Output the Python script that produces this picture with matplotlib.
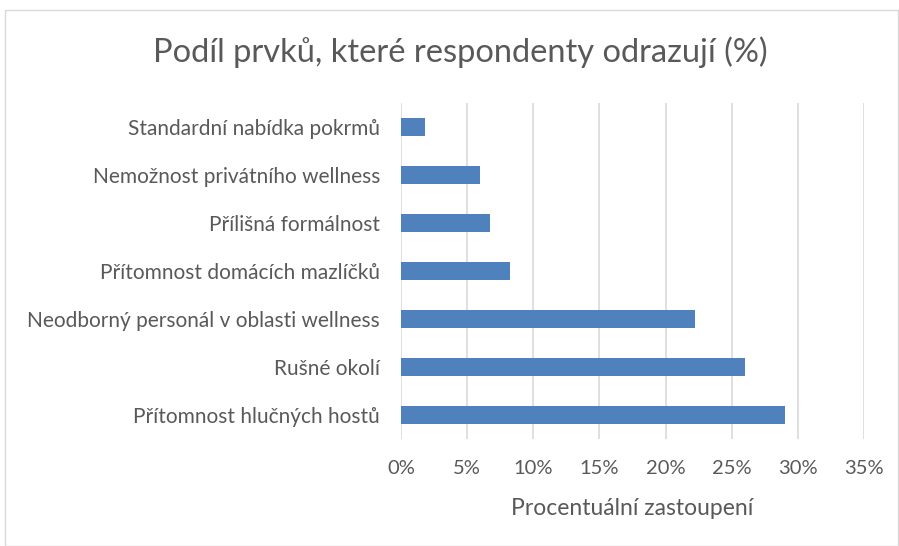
import matplotlib
matplotlib.use("Agg")
import matplotlib.pyplot as plt
from matplotlib.patches import Rectangle
from matplotlib.ticker import FuncFormatter

# ── Data ──
categories = [
    "Přítomnost hlučných hostů",
    "Rušné okolí",
    "Neodborný personál v oblasti wellness",
    "Přítomnost domácích mazlíčků",
    "Přílišná formálnost",
    "Nemožnost privátního wellness",
    "Standardní nabídka pokrmů",
]
values = [29.0, 26.0, 22.2, 8.25, 6.75, 6.0, 1.85]
x_ticks = [0, 5, 10, 15, 20, 25, 30, 35]

TEXT = "#595959"
plt.rcParams['font.family'] = ['Lato', 'DejaVu Sans']

fig = plt.figure(figsize=(8.99, 5.46), dpi=100)
ax = fig.add_axes([401 / 899, 1 - 439 / 546, 463 / 899, 336 / 546])

ax.barh(range(len(categories)), values, height=0.36, color="#4F81BD", zorder=3)

ax.set_xlim(0, 35)
ax.set_ylim(-0.5, len(categories) - 0.5)
ax.set_xticks(x_ticks)
ax.xaxis.set_major_formatter(FuncFormatter(lambda v, p: f"{int(v)}%"))
ax.set_yticks(range(len(categories)))
ax.set_yticklabels(categories)
ax.grid(axis="x", color="#D9D9D9", linewidth=1.2, zorder=0)
for s in ax.spines.values():
    s.set_visible(False)
ax.tick_params(axis="both", length=0, colors=TEXT)
ax.tick_params(axis="x", pad=15, labelsize=14.5)
ax.tick_params(axis="y", pad=15, labelsize=15)

ax.set_xlabel("Procentuální zastoupení", color=TEXT, fontsize=16.5, labelpad=15)
fig.text(460 / 899, 1 - 52 / 546, "Podíl prvků, které respondenty odrazují (%)",
         ha="center", va="center", color=TEXT, fontsize=23.5)

# chart border
fig.patches.append(Rectangle((5 / 899, 0), 893 / 899, 1 - 10 / 546,
                             transform=fig.transFigure, fill=False,
                             edgecolor="#D9D9D9", linewidth=1))

fig.savefig("out.png", dpi=100)
